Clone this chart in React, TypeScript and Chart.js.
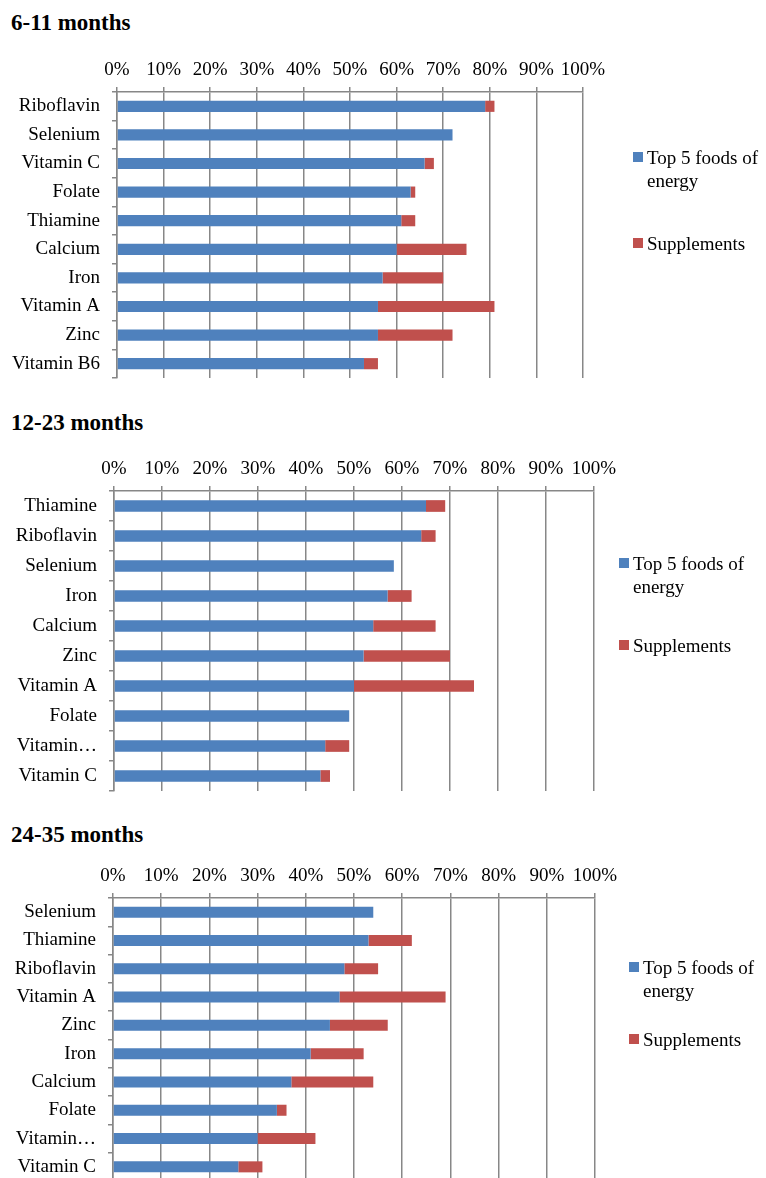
import React, { useEffect, useRef } from "react";
import { Chart, registerables } from "chart.js";

Chart.register(...registerables);

// ---------- data ----------
const SERIES_NAMES = ["Top 5 foods of energy", "Supplements"];
const SERIES_COLORS = ["#4F81BD", "#C0504D"];
const X_TICK_LABELS = ["0%", "10%", "20%", "30%", "40%", "50%", "60%", "70%", "80%", "90%", "100%"];

const TITLE_1 = "6-11 months";
const CATEGORIES_1 = ["Riboflavin", "Selenium", "Vitamin C", "Folate", "Thiamine", "Calcium", "Iron", "Vitamin A", "Zinc", "Vitamin B6"];
const TOP5_1 = [79, 72, 66, 63, 61, 60, 57, 56, 56, 53];
const SUPP_1 = [2, 0, 2, 1, 3, 15, 13, 25, 16, 3];

const TITLE_2 = "12-23 months";
const CATEGORIES_2 = ["Thiamine", "Riboflavin", "Selenium", "Iron", "Calcium", "Zinc", "Vitamin A", "Folate", "Vitamin…", "Vitamin C"];
const TOP5_2 = [65, 64, 58.3, 57, 54, 52, 50, 49, 44, 43];
const SUPP_2 = [4, 3, 0, 5, 13, 18, 25, 0, 5, 2];

const TITLE_3 = "24-35 months";
const CATEGORIES_3 = ["Selenium", "Thiamine", "Riboflavin", "Vitamin A", "Zinc", "Iron", "Calcium", "Folate", "Vitamin…", "Vitamin C"];
const TOP5_3 = [54, 53, 48, 47, 45, 41, 37, 34, 30, 26];
const SUPP_3 = [0, 9, 7, 22, 12, 11, 17, 2, 12, 5];

// ---------- style ----------
const FONT = "'Liberation Serif', 'Times New Roman', serif";
const GRID = "#878787";

type Layout = {
  canvasTop: number;
  canvasHeight: number;
  left: number;
  right: number;
  top: number;
  bottom: number;
  titleY: number;
  legendX: number;
  legendY1: number;
  legendY2: number;
};

const LAYOUT_1: Layout = { canvasTop: 40, canvasHeight: 350, left: 117, right: 583, top: 92, bottom: 378, titleY: 23, legendX: 647, legendY1: 157, legendY2: 243 };
const LAYOUT_2: Layout = { canvasTop: 440, canvasHeight: 360, left: 114, right: 594, top: 491, bottom: 791, titleY: 423, legendX: 633, legendY1: 563, legendY2: 645 };
const LAYOUT_3: Layout = { canvasTop: 846, canvasHeight: 340, left: 113, right: 595, top: 898, bottom: 1181, titleY: 835, legendX: 643, legendY1: 967, legendY2: 1039 };

function Panel(props: { title: string; categories: string[]; top5: number[]; supp: number[]; layout: Layout }) {
  const { title, categories, top5, supp, layout } = props;
  const ref = useRef<HTMLCanvasElement | null>(null);

  useEffect(() => {
    if (!ref.current) return;
    const xHeight = layout.top - layout.canvasTop;
    const chart = new Chart(ref.current, {
      type: "bar",
      data: {
        labels: categories,
        datasets: [
          { label: SERIES_NAMES[0], data: top5, backgroundColor: SERIES_COLORS[0], borderWidth: 0, barPercentage: 0.39, categoryPercentage: 1 },
          { label: SERIES_NAMES[1], data: supp, backgroundColor: SERIES_COLORS[1], borderWidth: 0, barPercentage: 0.39, categoryPercentage: 1 },
        ],
      },
      options: {
        indexAxis: "y",
        responsive: false,
        animation: false,
        layout: {
          padding: {
            left: 0,
            top: 0,
            right: 766 - layout.right,
            bottom: layout.canvasTop + layout.canvasHeight - layout.bottom,
          },
        },
        plugins: { legend: { display: false }, title: { display: false }, tooltip: { enabled: false } },
        scales: {
          x: {
            position: "top",
            stacked: true,
            min: 0,
            max: 100,
            ticks: {
              stepSize: 10,
              autoSkip: false,
              maxRotation: 0,
              padding: 6,
              color: "#000",
              font: { family: FONT, size: 19 },
              callback: (_v: any, i: number) => X_TICK_LABELS[i],
            },
            grid: { color: GRID, lineWidth: 1.5, tickLength: 5, drawTicks: true },
            border: { display: true, color: GRID, width: 1.5 },
            afterFit: (s: any) => {
              s.height = xHeight;
              s.paddingLeft = 0;
              s.paddingRight = 0;
            },
          },
          y: {
            stacked: true,
            ticks: { autoSkip: false, padding: 12, color: "#000", font: { family: FONT, size: 19 } },
            grid: { drawOnChartArea: false, color: GRID, lineWidth: 1.5, tickLength: 5, offset: true },
            border: { display: true, color: GRID, width: 1.5 },
            afterFit: (s: any) => {
              s.width = layout.left;
              s.paddingTop = 0;
              s.paddingBottom = 0;
            },
          },
        },
      } as any,
    });
    return () => chart.destroy();
  }, []);

  const legendRows = [layout.legendY1, layout.legendY2];

  return (
    <>
      <div
        style={{
          position: "absolute",
          left: 11,
          top: layout.titleY - 14,
          fontFamily: FONT,
          fontWeight: "bold",
          fontSize: 23,
          lineHeight: "28px",
          color: "#000",
          whiteSpace: "nowrap",
        }}
      >
        {title}
      </div>
      <canvas
        ref={ref}
        width={766}
        height={layout.canvasHeight}
        style={{ position: "absolute", left: 0, top: layout.canvasTop, width: 766, height: layout.canvasHeight, display: "block" }}
      />
      {SERIES_NAMES.map((name, i) => (
        <React.Fragment key={name}>
          <div
            style={{
              position: "absolute",
              left: layout.legendX - 14,
              top: legendRows[i] - 5,
              width: 10,
              height: 10,
              background: SERIES_COLORS[i],
            }}
          />
          <div
            style={{
              position: "absolute",
              left: layout.legendX,
              top: legendRows[i] - 11.5,
              width: 128,
              fontFamily: FONT,
              fontSize: 19,
              lineHeight: "23px",
              color: "#000",
            }}
          >
            {name}
          </div>
        </React.Fragment>
      ))}
    </>
  );
}

export default function App() {
  return (
    <div
      style={{
        position: "absolute",
        left: 0,
        top: 0,
        width: 766,
        height: 1178,
        overflow: "hidden",
        background: "#fff",
      }}
    >
      <Panel title={TITLE_1} categories={CATEGORIES_1} top5={TOP5_1} supp={SUPP_1} layout={LAYOUT_1} />
      <Panel title={TITLE_2} categories={CATEGORIES_2} top5={TOP5_2} supp={SUPP_2} layout={LAYOUT_2} />
      <Panel title={TITLE_3} categories={CATEGORIES_3} top5={TOP5_3} supp={SUPP_3} layout={LAYOUT_3} />
    </div>
  );
}
